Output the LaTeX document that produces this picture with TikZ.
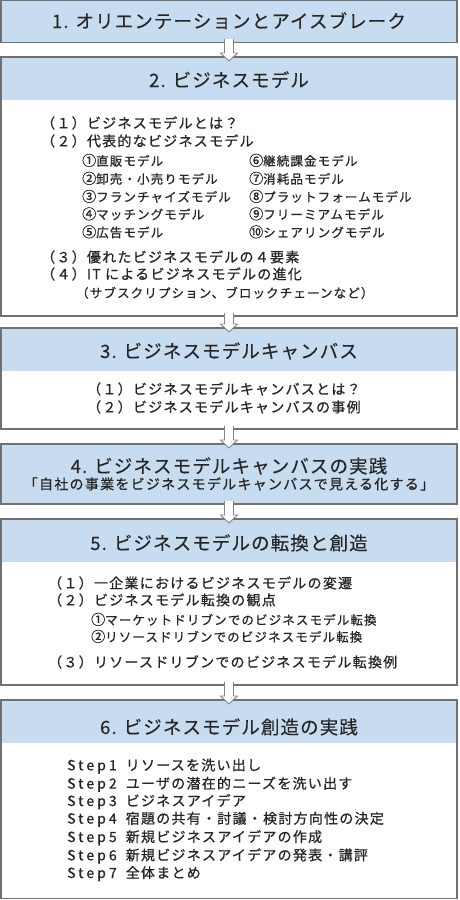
\documentclass[tikz,border=0pt]{standalone}
\usepackage{fontspec}
\setmainfont{Noto Sans CJK JP}
\newfontfamily\ttlfont[LetterSpace=6,FakeBold=0.2]{Noto Sans CJK JP}
\newfontfamily\bodyfont[LetterSpace=9,FakeBold=0.7]{Noto Sans CJK JP}
\newfontfamily\stepfont[LetterSpace=22,FakeBold=0.7]{Noto Sans CJK JP}
\usetikzlibrary{calc}
\definecolor{hdrblue}{HTML}{C8DCF1}
\definecolor{bordergray}{HTML}{707070}
\definecolor{arrowgray}{HTML}{858585}
\definecolor{txt}{HTML}{262626}
\tikzset{
 panel/.style={draw=bordergray, line width=1.4pt, fill=white, anchor=north west, minimum width=456pt, inner sep=0pt, outer sep=0pt},
 hdrpanel/.style={panel, fill=hdrblue},
 bodypanel/.style={panel, path picture={\fill[hdrblue] (path picture bounding box.north west) rectangle ([yshift=-42.5pt]path picture bounding box.north east);}},
 title/.style={anchor=base, inner sep=0pt, text=txt, font=\ttlfont\fontsize{18.5}{20}\selectfont},
 bodyline/.style={anchor=base west, inner sep=0pt, text=txt, font=\bodyfont\fontsize{14}{16}\selectfont},
 subline/.style={bodyline, font=\bodyfont\fontsize{12.5}{14}\selectfont},
 flowarrow/.style={draw=arrowgray, fill=white, line width=0.9pt},
}
\newcommand\flowarr[2]{\filldraw[flowarrow] let \p1=(#1.south), \p2=(#2.north) in
 (\x1-4.5pt,\y1+3pt) -- (\x1-4.5pt,\y2+4pt) -- (\x1-8.5pt,\y2+4pt) -- (\x1,\y2-4pt)
 -- (\x1+8.5pt,\y2+4pt) -- (\x1+4.5pt,\y2+4pt) -- (\x1+4.5pt,\y1+3pt);}
\newcommand\cn[1]{\scalebox{1.12}{#1}}
\begin{document}
\begin{tikzpicture}[x=1pt,y=-1pt]
\useasboundingbox (0,0) rectangle (459,900);
% panels
\node[hdrpanel, minimum height=41.5pt] (h1) at (1,0.7) {};
\node[bodypanel, minimum height=259pt] (p2) at (1,57) {};
\node[bodypanel, minimum height=101pt] (p3) at (1,328) {};
\node[hdrpanel, minimum height=60pt] (h4) at (1,444) {};
\node[bodypanel, minimum height=166pt] (p5) at (1,519) {};
\node[bodypanel, minimum height=198.3pt] (p6) at (1,700) {};
% arrows
\flowarr{h1}{p2}
\flowarr{p2}{p3}
\flowarr{p3}{h4}
\flowarr{h4}{p5}
\flowarr{p5}{p6}
% box 1
\node[title] (t1) at (229,28) {1. オリエンテーションとアイスブレーク};
% box 2
\node[title] (t2) at (229,87) {2. ビジネスモデル};
\node[bodyline] (b2a) at (41,128.3) {（１）ビジネスモデルとは？};
\node[bodyline] (b2b) at (41,146.3) {（２）代表的なビジネスモデル};
\node[subline] (s21) at (82,165.7) {\cn{①}直販モデル};
\node[subline] (s22) at (82,183.7) {\cn{②}卸売・小売りモデル};
\node[subline] (s23) at (82,201.7) {\cn{③}フランチャイズモデル};
\node[subline] (s24) at (82,219.2) {\cn{④}マッチングモデル};
\node[subline] (s25) at (82,237.2) {\cn{⑤}広告モデル};
\node[subline] (s26) at (249,165.7) {\cn{⑥}継続課金モデル};
\node[subline] (s27) at (249,183.7) {\cn{⑦}消耗品モデル};
\node[subline] (s28) at (249,201.7) {\cn{⑧}プラットフォームモデル};
\node[subline] (s29) at (249,219.2) {\cn{⑨}フリーミアムモデル};
\node[subline] (s210) at (249,237.2) {\cn{⑩}シェアリングモデル};
\node[bodyline] (b2c) at (41,262.3) {（３）優れたビジネスモデルの４要素};
\node[bodyline] (b2d) at (41,279.3) {（４）IT によるビジネスモデルの進化};
\node[subline] (b2e) at (76,297.7) {（サブスクリプション、ブロックチェーンなど）};
% box 3
\node[title] (t3) at (229,358) {3. ビジネスモデルキャンバス};
\node[bodyline] (b3a) at (87,394.3) {（１）ビジネスモデルキャンバスとは？};
\node[bodyline] (b3b) at (87,412.3) {（２）ビジネスモデルキャンバスの事例};
% box 4
\node[title] (t4) at (229,473) {4. ビジネスモデルキャンバスの実践};
\node[bodyline, anchor=base] (s4) at (229,489.3) {「自社の事業をビジネスモデルキャンバスで見える化する」};
% box 5
\node[title] (t5) at (229,550) {5. ビジネスモデルの転換と創造};
\node[bodyline] (b5a) at (48,588.3) {（１）一企業におけるビジネスモデルの変遷};
\node[bodyline] (b5b) at (48,605.3) {（２）ビジネスモデル転換の観点};
\node[subline] (b5c) at (91,624.7) {\cn{①}マーケットドリブンでのビジネスモデル転換};
\node[subline] (b5d) at (91,641.7) {\cn{②}リソースドリブンでのビジネスモデル転換};
\node[bodyline] (b5e) at (48,667.3) {（３）リソースドリブンでのビジネスモデル転換例};
% box 6
\node[title] (t6) at (229,734) {6. ビジネスモデル創造の実践};
\node[bodyline] (st1) at (67,770.3) {{\stepfont Step1}\hspace{9pt}リソースを洗い出し};
\node[bodyline] (st2) at (67,788.6) {{\stepfont Step2}\hspace{9pt}ユーザの潜在的ニーズを洗い出す};
\node[bodyline] (st3) at (67,806) {{\stepfont Step3}\hspace{9pt}ビジネスアイデア};
\node[bodyline] (st4) at (67,823.6) {{\stepfont Step4}\hspace{9pt}宿題の共有・討議・検討方向性の決定};
\node[bodyline] (st5) at (67,842) {{\stepfont Step5}\hspace{9pt}新規ビジネスアイデアの作成};
\node[bodyline] (st6) at (67,860.3) {{\stepfont Step6}\hspace{9pt}新規ビジネスアイデアの発表・講評};
\node[bodyline] (st7) at (67,878) {{\stepfont Step7}\hspace{9pt}全体まとめ};
\end{tikzpicture}
\end{document}
